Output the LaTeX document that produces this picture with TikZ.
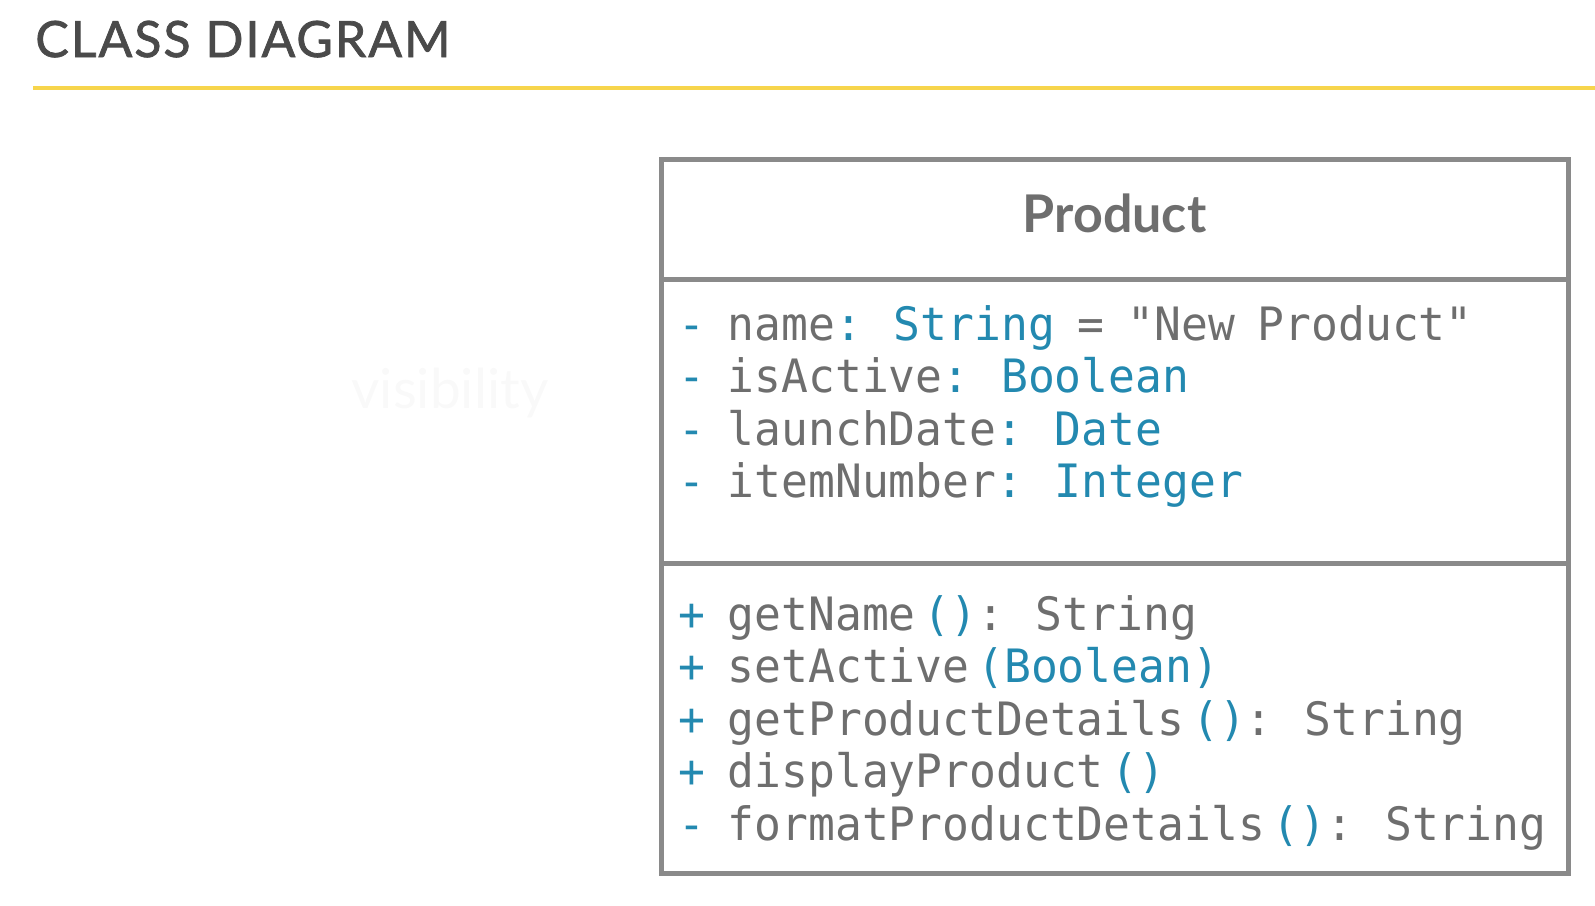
\documentclass[tikz,border=0pt]{standalone}
\usepackage{fontspec}
\setmainfont{Lato}
\newfontfamily\headfont[LetterSpace=4,FakeBold=1.5]{Lato}
\newfontfamily\codefont[FakeStretch=0.97,WordSpace=0.85,Ligatures=TeXOff]{DejaVu Sans Mono}
\usetikzlibrary{calc,positioning}
\definecolor{ink}{HTML}{4A4A4A}
\definecolor{muted}{HTML}{6E6E6E}
\definecolor{frame}{HTML}{8A8A8A}
\definecolor{umlblue}{HTML}{2389B0}
\definecolor{gold}{HTML}{F7D54C}
\definecolor{ghost}{HTML}{F9F9F9}
\newcommand{\typ}[1]{\textcolor{umlblue}{#1}}
\newcommand{\gap}{\hspace{0.17em}}
\tikzset{
  headline/.style={text=ink,font=\headfont\fontsize{25}{30}\selectfont,inner sep=0pt},
  rule/.style={draw=gold,line width=2pt},
  ghostlabel/.style={text=ghost,font=\fontsize{27.5}{32}\selectfont,inner sep=0pt},
  compart/.style={draw=frame,line width=2.5pt,minimum width=453.5pt,inner sep=0pt,outer sep=0pt},
  member/.style={text=muted,font=\codefont\fontsize{23}{26}\selectfont,
    inner sep=0pt,outer sep=0pt,text height=18pt,text depth=8.25pt}
}

\begin{document}
\begin{tikzpicture}[x=0.5pt,y=-0.5pt]
  \useasboundingbox (0,0) rectangle (1595,905);
  \node[headline,anchor=base west] (title) at (35,57) {CLASS DIAGRAM};
  \coordinate (ruleL) at (33,88);
  \coordinate (ruleR) at (1595,88);
  \draw[rule] (ruleL) -- (ruleR);
  \node[ghostlabel,anchor=base] (vis) at (450,408) {visibility};

  % class box
  \node[compart,minimum height=60pt,text=muted,font=\bfseries\fontsize{26}{30}\selectfont,
    text height=13pt,text depth=0pt] (head) at (1114.5,219) {Product};
  \node[compart,minimum height=142pt,below=0pt of head] (attrs) {};
  \node[compart,minimum height=155pt,below=0pt of attrs] (ops) {};

  \node[member,below right=12.5pt and 8.5pt of attrs.north west] (a1) {\typ{-} name\typ{: String} = "New Product"};
  \node[member,below=0pt of a1.south west,anchor=north west] (a2) {\typ{-} isActive\typ{: Boolean}};
  \node[member,below=0pt of a2.south west,anchor=north west] (a3) {\typ{-} launchDate\typ{: Date}};
  \node[member,below=0pt of a3.south west,anchor=north west] (a4) {\typ{-} itemNumber\typ{: Integer}};

  \node[member,below right=15.5pt and 8.5pt of ops.north west] (m1) {\typ{+} getName\gap\typ{()}: String};
  \node[member,below=0pt of m1.south west,anchor=north west] (m2) {\typ{+} setActive\gap\typ{(Boolean)}};
  \node[member,below=0pt of m2.south west,anchor=north west] (m3) {\typ{+} getProductDetails\gap\typ{()}: String};
  \node[member,below=0pt of m3.south west,anchor=north west] (m4) {\typ{+} displayProduct\gap\typ{()}};
  \node[member,below=0pt of m4.south west,anchor=north west] (m5) {\typ{-} formatProductDetails\gap\typ{()}: String};
\end{tikzpicture}
\end{document}
